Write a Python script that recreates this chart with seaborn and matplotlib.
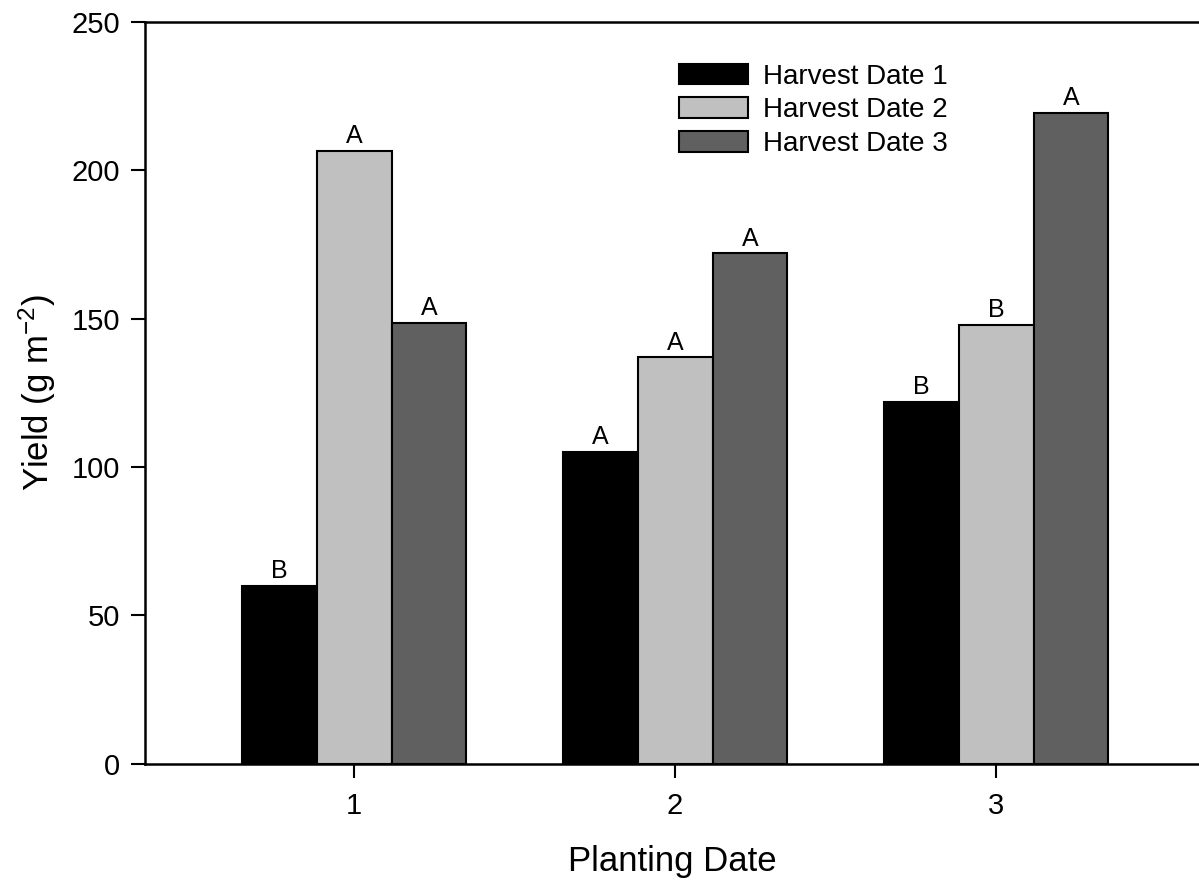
import matplotlib
matplotlib.use("Agg")
import matplotlib.pyplot as plt
import seaborn as sns
import pandas as pd

sns.set_theme(style="ticks")
plt.rcParams["font.family"] = ["Liberation Sans", "DejaVu Sans"]
plt.rcParams["mathtext.fontset"] = "custom"
plt.rcParams["mathtext.rm"] = "Liberation Sans"
plt.rcParams["mathtext.it"] = "Liberation Sans:italic"
plt.rcParams["text.color"] = "black"
plt.rcParams["axes.labelcolor"] = "black"

# Yield by planting date and harvest date
planting_dates = ["1", "2", "3"]
harvest_dates = ["Harvest Date 1", "Harvest Date 2", "Harvest Date 3"]
yield_hd1 = [60, 105, 122]
yield_hd2 = [206.5, 137, 148]
yield_hd3 = [148.5, 172, 219.5]
# mean separation letters, one list per harvest date
letters_hd1 = ["B", "A", "B"]
letters_hd2 = ["A", "A", "B"]
letters_hd3 = ["A", "A", "A"]

colors = ["#000000", "#c0c0c0", "#606060"]

rows = []
for hd, vals in zip(harvest_dates, [yield_hd1, yield_hd2, yield_hd3]):
    for pd_, v in zip(planting_dates, vals):
        rows.append({"Planting Date": pd_, "Harvest": hd, "Yield": v})
df = pd.DataFrame(rows)

fig = plt.figure(figsize=(11.99, 8.8), dpi=100)
ax = fig.add_axes([0.121, 0.132, 0.879, 0.843])

sns.barplot(data=df, x="Planting Date", y="Yield", hue="Harvest",
            order=planting_dates, hue_order=harvest_dates,
            palette=colors, width=0.7, edgecolor="black", linewidth=1.5,
            saturation=1, errorbar=None, ax=ax)

for cont, labs in zip(ax.containers, [letters_hd1, letters_hd2, letters_hd3]):
    ax.bar_label(cont, labels=labs, padding=2, fontsize=18, color="black")

ax.set_xlim(-0.651, 2.632)
ax.set_ylim(0, 250)
ax.set_yticks([0, 50, 100, 150, 200, 250])
ax.tick_params(axis="both", direction="out", length=10, width=1.5,
               labelsize=21, colors="black", labelcolor="black")
ax.tick_params(axis="x", pad=10)
ax.tick_params(axis="y", pad=8)

for side in ["left", "bottom", "top"]:
    ax.spines[side].set_linewidth(1.8)
    ax.spines[side].set_color("black")
ax.spines["right"].set_visible(False)

ax.set_xlabel("Planting Date", fontsize=25, labelpad=18)
ax.set_ylabel("Yield (g m$^{-2}$)", fontsize=25, labelpad=10)

leg = ax.legend(loc="upper left", bbox_to_anchor=(0.4965, 0.959), frameon=False,
                fontsize=20, handlelength=2.45, handleheight=0.75,
                labelspacing=0.28, handletextpad=0.55, borderaxespad=0)
for t in leg.get_texts():
    t.set_color("black")

fig.savefig("out.png", dpi=100)
